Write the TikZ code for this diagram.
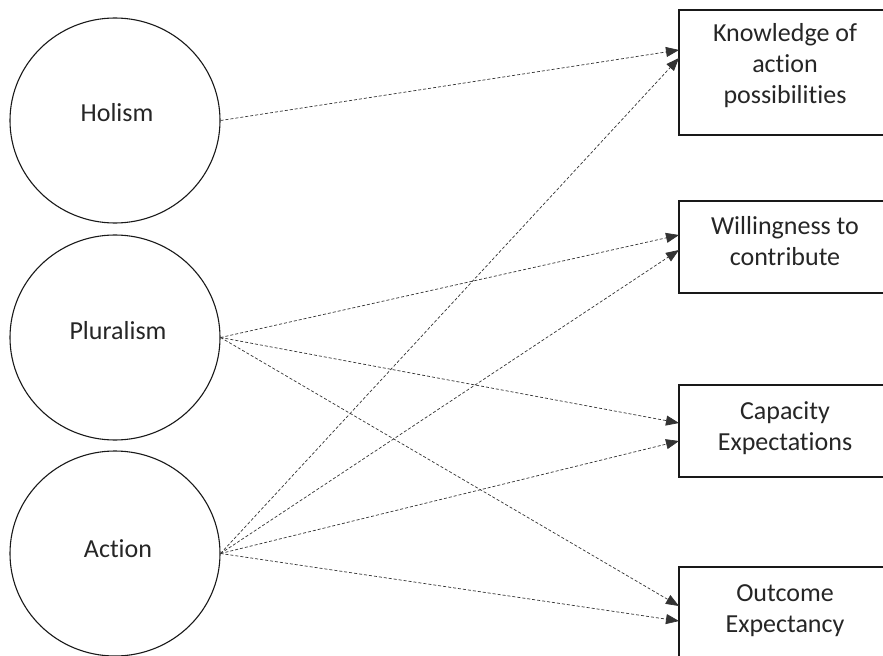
\documentclass[tikz,border=0pt]{standalone}
\usepackage{fontspec}
\setmainfont{Carlito}[Ligatures=NoCommon]
\usetikzlibrary{arrows.meta,shapes.geometric}
\begin{document}
\begin{tikzpicture}[x=1bp,y=-1bp,
  every node/.style={font=\fontsize{26bp}{31bp}\selectfont, text=black!85},
  oval/.style={draw=black!90, line width=1.1bp, ellipse, minimum width=210bp, minimum height=205bp, inner sep=0pt},
  outbox/.style={draw=black!90, line width=1.1bp, rectangle, inner sep=0pt},
  lbl/.style={align=center, inner sep=0pt},
  link/.style={draw=black!80, line width=0.7bp, dash pattern=on 3bp off 2bp,
    -{Triangle[length=13bp,width=10bp]}, shorten >=0pt}
]
\clip (0,0) rectangle (883,656);
\fill[white] (0,0) rectangle (883,656);

% circles
\node[oval] (H) at (115,120.5) {};
\node[oval] (P) at (115,337.5) {};
\node[oval] (A) at (115,553.5) {};
\node[lbl] (Ht) at (117,113) {Holism};
\node[lbl] (Pt) at (118,331) {Pluralism};
\node[lbl] (At) at (118,549) {Action};

% boxes
\node[outbox, minimum width=212bp, minimum height=125bp] (K) at (785,72.5) {};
\node[outbox, minimum width=212bp, minimum height=92bp] (W) at (785,247) {};
\node[outbox, minimum width=212bp, minimum height=92bp] (C) at (785,431) {};
\node[outbox, minimum width=212bp, minimum height=92bp] (O) at (785,613) {};
\node[lbl] (Kt) at (785,66) {Knowledge of\\action\\possibilities};
\node[lbl] (Wt) at (785,241) {Willingness to\\contribute};
\node[lbl] (Ct) at (785,428) {Capacity\\Expectations};
\node[lbl] (Ot) at (785,611) {Outcome\\Expectancy};

% arrow end points on box edges
\coordinate (k1) at (679,50);
\coordinate (k2) at (679,58);
\coordinate (w1) at (679,235);
\coordinate (w2) at (679,250);
\coordinate (c1) at (679,423);
\coordinate (c2) at (679,441);
\coordinate (o1) at (679,606);
\coordinate (o2) at (679,621);

% connectors
\draw[link] (H.east) -- (k1);
\draw[link] (A.east) -- (k2);
\draw[link] (P.east) -- (w1);
\draw[link] (A.east) -- (w2);
\draw[link] (P.east) -- (c1);
\draw[link] (A.east) -- (c2);
\draw[link] (P.east) -- (o1);
\draw[link] (A.east) -- (o2);
\end{tikzpicture}
\end{document}
